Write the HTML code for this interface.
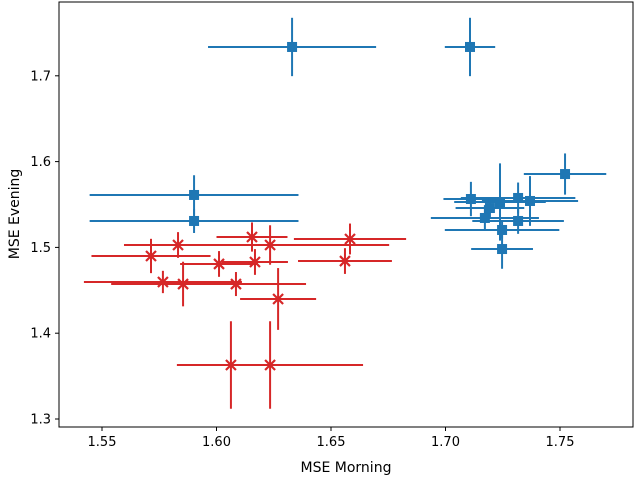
<!DOCTYPE html>
<html><head><meta charset="utf-8"><style>
html,body{margin:0;padding:0;background:#fff;}
svg{display:block;font-family:"DejaVu Sans","Liberation Sans",sans-serif;}
</style></head><body>
<svg id="chart" width="634" height="477">
<rect x="59" y="2" width="574" height="425" fill="none" stroke="#000" stroke-width="1"/>
<g id="ticks"></g>
<g id="series-red"></g>
<g id="series-blue"></g>
<text x="346" y="472" text-anchor="middle" font-size="14">MSE Morning</text>
<text x="19" y="214" text-anchor="middle" font-size="14" transform="rotate(-90 19 214)">MSE Evening</text>
</svg>
<script>
const xTicks = [1.55, 1.60, 1.65, 1.70, 1.75];
const yTicks = [1.3, 1.4, 1.5, 1.6, 1.7];
const redX = [1.5714,1.5832,1.6155,1.6234,1.6583,1.6561,1.6011,1.6168,1.5766,1.5854,1.6085,1.6269,1.6063,1.6234];
const redY = [1.490,1.5028,1.5121,1.5028,1.5098,1.4841,1.4807,1.4830,1.4597,1.4573,1.4573,1.4399,1.3629,1.3629];
const redXErr = [0.026,0.0236,0.0155,0.052,0.0245,0.0205,0.017,0.0144,0.0345,0.0314,0.0306,0.0166,0.0236,0.0406];
const redYErr = [0.020,0.015,0.017,0.023,0.018,0.015,0.015,0.015,0.013,0.026,0.014,0.036,0.051,0.051];
const blueX = [1.633,1.7107,1.5902,1.5902,1.7522,1.7111,1.7238,1.7317,1.7369,1.7172,1.7317,1.7247,1.7247,1.7194];
const blueY = [1.7336,1.7336,1.5611,1.5308,1.5855,1.5564,1.5529,1.5576,1.5541,1.5343,1.5308,1.5203,1.4981,1.5459];
const blueXErr = [0.0367,0.011,0.0456,0.0456,0.018,0.012,0.02,0.025,0.021,0.0236,0.02,0.025,0.0135,0.015];
const blueYErr = [0.034,0.034,0.023,0.014,0.024,0.02,0.045,0.018,0.029,0.015,0.015,0.01,0.023,0.012];

const NS = "http://www.w3.org/2000/svg";
function sx(v){return 102 + (v-1.55)/0.05*114.5;}
function sy(v){return 419 - (v-1.3)*858;}
function mk(tag, attrs, parent){const e=document.createElementNS(NS,tag);for(const k in attrs)e.setAttribute(k,attrs[k]);parent.appendChild(e);return e;}

const tg = document.getElementById('ticks');
xTicks.forEach(t=>{
  const x = sx(t);
  const l = mk('line',{x1:x,x2:x,y1:427,y2:431,stroke:'#000'},tg);
  
  
  const tx = mk('text',{x:x,y:446,'text-anchor':'middle','font-size':'13'},tg);
  tx.textContent = t.toFixed(2);
  
  
});
yTicks.forEach(t=>{
  const y = sy(t);
  const l = mk('line',{x1:55,x2:59,y1:y,y2:y,stroke:'#000'},tg);
  
  
  const tx = mk('text',{x:51,y:y+4.5,'text-anchor':'end','font-size':'13'},tg);
  tx.textContent = t.toFixed(1);
  
  
});

function drawSeries(g, xs, ys, xe, ye, color, kind){
  xs.forEach((v,i)=>{
    const cx=sx(v), cy=sy(ys[i]);
    const h = mk('line',{x1:sx(v-xe[i]),x2:sx(v+xe[i]),y1:cy,y2:cy,stroke:color,'stroke-width':2},g);
    
    
    const vl = mk('line',{x1:cx,x2:cx,y1:sy(ys[i]+ye[i]),y2:sy(ys[i]-ye[i]),stroke:color,'stroke-width':2},g);
    
    
    if(kind==='square'){
      const r = mk('rect',{x:cx-5,y:cy-5,width:10,height:10,fill:color},g);
      
      
    } else {
      const p = mk('path',{d:`M${cx-5},${cy-5}L${cx+5},${cy+5}M${cx-5},${cy+5}L${cx+5},${cy-5}`,stroke:color,'stroke-width':2.2,fill:'none'},g);
      
      
    }
  });
}
drawSeries(document.getElementById('series-red'), redX, redY, redXErr, redYErr, '#d62728', 'x');
drawSeries(document.getElementById('series-blue'), blueX, blueY, blueXErr, blueYErr, '#1f77b4', 'square');
</script>
</body></html>
